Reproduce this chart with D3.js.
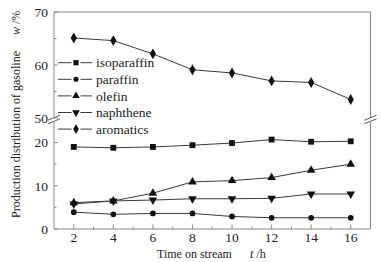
<!DOCTYPE html>
<html>
<head>
<meta charset="utf-8">
<script src="https://cdn.jsdelivr.net/npm/d3@7"></script>
<style>
  body { margin: 0; background: #fff; }
  text { font-family: "Liberation Serif", "Times New Roman", serif; fill: #222; }
</style>
</head>
<body>
<div id="container"></div>
<script>
// time on stream (h)
const hours = [2, 4, 6, 8, 10, 12, 14, 16];

// production distribution of gasoline, w/%
const isoparaffin = [19.0, 18.8, 19.0, 19.4, 19.9, 20.7, 20.2, 20.3];
const paraffin    = [3.9, 3.4, 3.6, 3.6, 2.9, 2.6, 2.6, 2.6];
const olefin      = [6.1, 6.5, 8.3, 10.9, 11.2, 11.9, 13.6, 15.0];
const naphthene   = [5.8, 6.5, 6.7, 7.0, 7.0, 7.1, 8.1, 8.1];
const aromatics   = [65.1, 64.6, 62.1, 59.1, 58.5, 57.0, 56.7, 53.5];

const seriesNames = ["isoparaffin", "paraffin", "olefin", "naphthene", "aromatics"];
const seriesValues = [isoparaffin, paraffin, olefin, naphthene, aromatics];
const seriesSymbols = [d3.symbolSquare, d3.symbolCircle, d3.symbolTriangle, "down", d3.symbolDiamond];

const lowTicks = [0, 10, 20];
const highTicks = [50, 60, 70];

const width = 381, height = 262;
const mLeft = 54, mRight = 370.5, mBottom = 229, mTop = 12;

const x = d3.scaleLinear().domain([1, 17]).range([mLeft, mRight]);
const yLow = d3.scaleLinear().domain([0, 25]).range([mBottom, 121]);
const yHigh = d3.scaleLinear().domain([50, 70]).range([118, mTop]);

const axisColor = "#8a8a8a";

const svg = d3.select("#container").append("svg")
  .attr("width", width)
  .attr("height", height);

// frame (broken on left and right)
const frame = svg.append("g").attr("stroke", axisColor).attr("fill", "none").attr("stroke-width", 1);
frame.append("line").attr("x1", mLeft).attr("x2", mRight).attr("y1", mBottom).attr("y2", mBottom);
frame.append("line").attr("x1", mLeft).attr("x2", mRight).attr("y1", mTop).attr("y2", mTop);
[mLeft, mRight].forEach(px => {
  frame.append("line").attr("x1", px).attr("x2", px).attr("y1", mTop).attr("y2", yHigh(50) - 1);
  frame.append("line").attr("x1", px).attr("x2", px).attr("y1", yLow(25) + 1).attr("y2", mBottom);
  // break marks
  [-1.8, 1.8].forEach(off => {
    const cy = (yHigh(50) + yLow(25)) / 2 + off;
    frame.append("line")
      .attr("x1", px - 6).attr("y1", cy + 2.5)
      .attr("x2", px + 6).attr("y2", cy - 2.5)
      .attr("stroke", "#555");
  });
});

// y ticks
function yTicks(scale, majors, minors) {
  majors.forEach(v => {
    svg.append("line").attr("x1", mLeft).attr("x2", mLeft + 4)
      .attr("y1", scale(v)).attr("y2", scale(v)).attr("stroke", axisColor);
    svg.append("text").attr("x", mLeft - 6).attr("y", scale(v)).attr("dy", "0.35em")
      .attr("text-anchor", "end").attr("font-size", 13.5).text(v);
  });
  minors.forEach(v => {
    svg.append("line").attr("x1", mLeft).attr("x2", mLeft + 2.5)
      .attr("y1", scale(v)).attr("y2", scale(v)).attr("stroke", axisColor);
  });
}
yTicks(yLow, lowTicks, [5, 15]);
yTicks(yHigh, highTicks, [55, 65]);

// x ticks
d3.range(2, 17).forEach(v => {
  const major = v % 2 === 0;
  svg.append("line").attr("x1", x(v)).attr("x2", x(v))
    .attr("y1", mBottom).attr("y2", mBottom - (major ? 4.5 : 2.5)).attr("stroke", axisColor);
  if (major) {
    svg.append("text").attr("x", x(v)).attr("y", mBottom + 12.5)
      .attr("text-anchor", "middle").attr("font-size", 13.5).text(v);
  }
});

// axis titles
svg.append("text").attr("x", 157).attr("y", 258).attr("font-size", 12)
  .text("Time on stream");
const xt = svg.append("text").attr("x", 250).attr("y", 258).attr("font-size", 12);
xt.append("tspan").attr("font-style", "italic").text("t");
xt.append("tspan").text(" /h");

svg.append("text")
  .attr("transform", "translate(20,218) rotate(-90)")
  .attr("font-size", 12).text("Production distribution of gasoline");
const yt = svg.append("text")
  .attr("transform", "translate(20,35) rotate(-90)")
  .attr("font-size", 12);
yt.append("tspan").attr("font-style", "italic").text("w");
yt.append("tspan").text(" /%");

function symbolPath(sym, size) {
  if (sym === "down") return d3.symbol(d3.symbolTriangle, size)();
  return d3.symbol(sym, size)();
}
function symbolTransform(sym, px, py) {
  if (sym === "down") return `translate(${px},${py}) rotate(180)`;
  return `translate(${px},${py})`;
}
const symSize = [34, 26, 32, 32, 34];

// series
seriesValues.forEach((vals, i) => {
  const ys = i === 4 ? yHigh : yLow;
  const line = d3.line().x((d, j) => x(hours[j])).y(d => ys(d));
  svg.append("path").datum(vals)
    .attr("d", line).attr("fill", "none").attr("stroke", "#3a3a3a").attr("stroke-width", 1);
  svg.append("g").selectAll("path").data(vals).join("path")
    .attr("d", symbolPath(seriesSymbols[i], symSize[i]))
    .attr("transform", (d, j) => symbolTransform(seriesSymbols[i], x(hours[j]), ys(d)))
    .attr("fill", "#111");
});

// legend
const legend = svg.append("g");
seriesNames.forEach((name, i) => {
  const ly = 62.7 + i * 16.6;
  [[58, 71.5], [80.5, 92]].forEach(([a, b]) => {
    legend.append("line").attr("x1", a).attr("x2", b).attr("y1", ly).attr("y2", ly)
      .attr("stroke", "#3a3a3a");
  });
  legend.append("path").attr("d", symbolPath(seriesSymbols[i], symSize[i] * 0.8))
    .attr("transform", symbolTransform(seriesSymbols[i], 76, ly)).attr("fill", "#111");
  legend.append("text").attr("x", 96).attr("y", ly).attr("dy", "0.35em")
    .attr("font-size", 13.5).text(name);
});
</script>
</body>
</html>
